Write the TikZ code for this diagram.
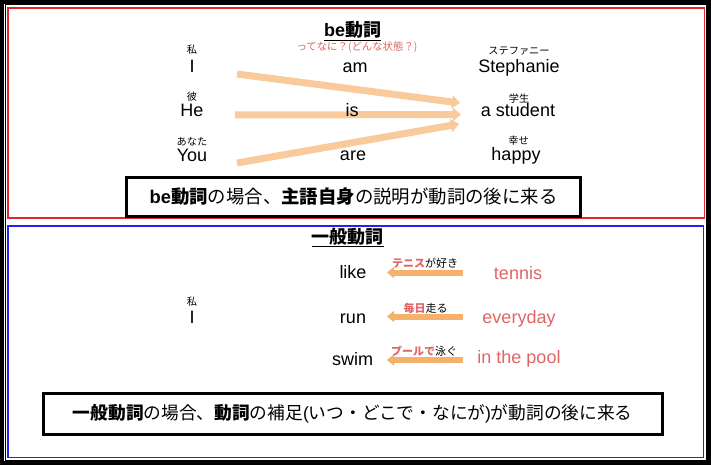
\documentclass[tikz,border=0pt]{standalone}
\usepackage{fontspec}
\setmainfont{Liberation Sans}
\newfontfamily\jp{Noto Sans CJK JP}
\usetikzlibrary{arrows.meta}
\definecolor{peach}{HTML}{F9CB9C}
\definecolor{orng}{HTML}{F6B26B}
\definecolor{rd}{HTML}{E06666}
\definecolor{frred}{HTML}{E0262B}
\definecolor{frblue}{HTML}{1F24F0}
\begin{document}
\begin{tikzpicture}[x=1pt,y=-1pt,
  wd/.style={font=\fontsize{18}{20}\selectfont, inner sep=0pt, anchor=base},
  rwd/.style={wd, text=rd},
  rb/.style={font=\jp\fontsize{10.2}{11}\selectfont, inner sep=0pt},
  ttl/.style={font=\fontsize{18}{20}\selectfont\bfseries, inner sep=0pt, anchor=base},
  note/.style={font=\jp\fontsize{10.4}{11}\selectfont, inner sep=0pt, text=rd},
  albl/.style={font=\jp\fontsize{11}{12}\selectfont, inner sep=0pt},
  sumbox/.style={draw, line width=3pt, inner sep=0pt},
  parr/.style={draw=peach, line width=7pt, -{Triangle[width=13pt,length=8pt]}},
  oarr/.style={draw=orng, line width=6pt, -{Triangle[width=11pt,length=7pt]}},
  frame/.style={draw, line width=1.8pt}
]
\useasboundingbox (0,0) rectangle (711,465);
\fill[white] (0,0) rectangle (711,465);
% outer frame
\draw[line width=4pt] (2,2) rectangle (709,463);
\draw[line width=1pt] (5,5) rectangle (706,460);
\draw[frame, draw=frred] (7.8,7.8) rectangle (704.5,218);
\draw[frame, draw=frblue] (7.8,226) rectangle (703.5,457.5);

% ---------- be verb section: arrows first (under the texts) ----------
\coordinate (a1) at (237,74);
\coordinate (b1) at (460,103);
\coordinate (a2) at (235,115);
\coordinate (b2) at (461,114.5);
\coordinate (a3) at (237,163);
\coordinate (b3) at (459,124);
\draw[parr] (a1) -- (b1);
\draw[parr] (a2) -- (b2);
\draw[parr] (a3) -- (b3);

\node[ttl] (t1) at (352.5,37) {\underline{be{\jp 動詞}}};
\node[note] (n1) at (357,47.5) {ってなに？(どんな状態？)};

\node[rb] (r1) at (192,50) {私};
\node[wd] (s1) at (192,73) {I};
\node[rb] (r2) at (192,97) {彼};
\node[wd] (s2) at (192,117) {He};
\node[rb] (r3) at (192,141.5) {あなた};
\node[wd] (s3) at (192,161) {You};

\node[wd] (v1) at (355,72.5) {am};
\node[wd] (v2) at (352,116.5) {is};
\node[wd] (v3) at (353,160.5) {are};

\node[rb] (r4) at (519,51) {ステファニー};
\node[wd] (c1) at (519,73) {Stephanie};
\node[rb] (r5) at (519,99) {学生};
\node[wd] (c2) at (518,117) {a student};
\node[rb] (r6) at (518.5,141) {幸せ};
\node[wd] (c3) at (516,160.5) {happy};

\node[sumbox, minimum width=454pt, minimum height=39pt] (box1) at (353.5,196.5)
  {\fontsize{18.4}{20}\selectfont\textbf{be{\jp 動詞}}{\jp の場合、\textbf{主語自身}の説明が動詞の後に来る}};

% ---------- general verb section ----------
\coordinate (p1) at (463,272.5);
\coordinate (q1) at (387,272.5);
\coordinate (p2) at (463,316.5);
\coordinate (q2) at (387,316.5);
\coordinate (p3) at (463,360);
\coordinate (q3) at (387,360);
\draw[oarr] (p1) -- (q1);
\draw[oarr] (p2) -- (q2);
\draw[oarr] (p3) -- (q3);

\node[ttl] (t2) at (347.5,243) {\underline{\jp 一般動詞}};

\node[rb] (r7) at (192,301.5) {私};
\node[wd] (s4) at (192,323) {I};

\node[wd] (w1) at (353,278) {like};
\node[wd] (w2) at (353,323) {run};
\node[wd] (w3) at (352.5,365) {swim};

\node[rwd] (o1) at (518,279.5) {tennis};
\node[rwd] (o2) at (519,323) {everyday};
\node[rwd] (o3) at (519,363.5) {in the pool};

\node[albl] (l1) at (425,263) {\textcolor{rd}{\bfseries テニス}が好き};
\node[albl] (l2) at (425.5,308) {\textcolor{rd}{\bfseries 毎日}走る};
\node[albl] (l3) at (424,351.5) {\textcolor{rd}{\bfseries プールで}泳ぐ};

\node[sumbox, minimum width=618.5pt, minimum height=41pt] (box2) at (352.75,414)
  {\fontsize{17.7}{20}\selectfont{\jp\textbf{一般動詞}の場合、\textbf{動詞}の補足}(\kern0pt{\jp いつ・どこで・なにが})\kern0pt{\jp が動詞の後に来る}};
\end{tikzpicture}
\end{document}
